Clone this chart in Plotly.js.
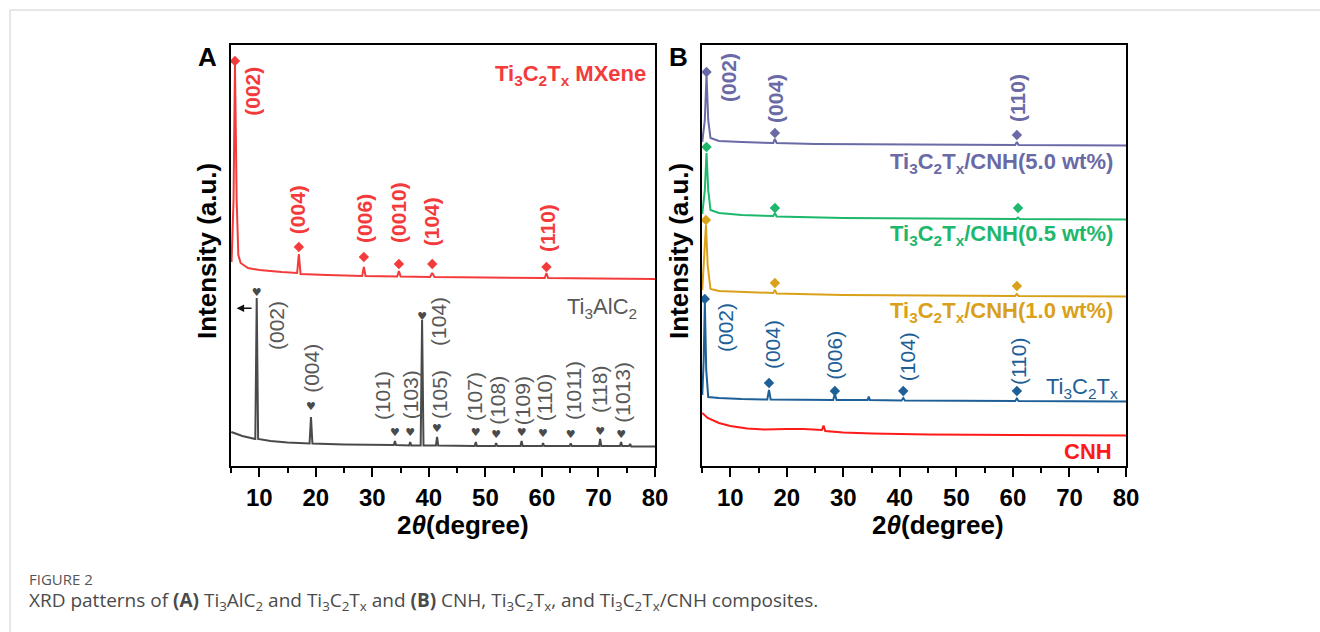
<!DOCTYPE html>
<html>
<head>
<meta charset="utf-8">
<script src="https://cdn.plot.ly/plotly-3.0.1.min.js"></script>
<style>
  html, body { margin: 0; padding: 0; background: #fff; }
  #chart { width: 1320px; height: 632px; }
</style>
</head>
<body>
<div id="chart"></div>
<script>
// ---------------- Panel A data ----------------
// Ti3C2Tx MXene (red)
const mxA_x = [5.1, 5.45, 5.7, 6.0, 6.3, 6.7, 8, 10, 14, 16.7, 17.0, 17.3, 22, 28.2, 28.5, 28.8, 34.4, 34.7, 35.0, 40.2, 40.6, 41.0, 50, 60.5, 60.8, 61.1, 70, 80];
const mxA_y = [48.46, 63.18, 95.72, 63.18, 50.12, 48.22, 47.03, 46.56, 46.08, 45.84, 50.36, 45.61, 45.37, 45.13, 47.27, 45.13, 45.01, 46.32, 45.01, 44.89, 45.84, 44.89, 44.77, 44.66, 45.84, 44.66, 44.54, 44.42];
const mxA_mk_x = [5.7, 17.0, 28.5, 34.7, 40.6, 60.8];
const mxA_mk_y = [96.2, 52.02, 49.64, 47.98, 47.98, 47.27];
const mxA_lab = ["(002)", "(004)", "(006)", "(0010)", "(104)", "(110)"];
const mxA_lab_x = [8.9, 16.7, 28.5, 34.5, 40.6, 60.9];
const mxA_lab_y = [88.9, 60.8, 58.9, 60.3, 57.96, 56.53];

// Ti3AlC2 (grey)
const alA_x = [5.05, 7, 9.3, 9.55, 9.8, 12, 15, 18.9, 19.15, 19.4, 25, 33.8, 34.0, 34.2, 36.5, 36.7, 36.9, 38.55, 38.8, 39.05, 41.25, 41.45, 41.65, 48.1, 48.3, 48.5, 51.7, 51.9, 52.1, 56.2, 56.4, 56.6, 60.0, 60.2, 60.4, 64.9, 65.1, 65.3, 70.1, 70.3, 70.5, 73.8, 74.0, 74.2, 75.4, 75.6, 75.8, 80];
const alA_y = [8.08, 7.13, 6.41, 39.90, 6.41, 5.94, 5.58, 5.34, 11.64, 5.34, 5.11, 4.99, 5.94, 4.99, 4.87, 5.70, 4.87, 4.87, 34.68, 4.87, 4.87, 6.89, 4.87, 4.75, 5.70, 4.75, 4.75, 5.46, 4.75, 4.75, 5.94, 4.75, 4.75, 5.46, 4.75, 4.75, 5.34, 4.75, 4.75, 6.41, 4.75, 4.75, 5.70, 4.75, 4.75, 5.23, 4.63, 4.63];
const alA_mk_x = [9.55, 19.15, 34.0, 36.7, 38.8, 41.45, 48.3, 51.9, 56.4, 60.2, 65.1, 70.3, 74.0];
const alA_mk_y = [41.09, 14.01, 7.84, 7.84, 35.39, 8.79, 7.84, 7.36, 7.84, 7.60, 7.36, 8.08, 7.36];
const alA_lab = ["(002)", "(004)", "(101)", "(103)", "(104)", "(105)", "(107)", "(108)", "(109)", "(110)", "(1011)", "(118)", "(1013)"];
const alA_lab_x = [12.96, 19.3, 31.9, 36.7, 41.6, 41.8, 48.0, 52.2, 56.5, 60.4, 65.5, 70.1, 74.3];
const alA_lab_y = [33.25, 23.28, 16.63, 16.86, 34.44, 16.86, 16.39, 15.68, 15.44, 16.15, 17.81, 18.05, 17.58];

// ---------------- Panel B data ----------------
const c50_x = [5.05, 5.5, 5.8, 6.1, 6.5, 8, 12, 17.6, 17.9, 18.2, 25, 40, 60.4, 60.7, 61.0, 80];
const c50_y = [76.96, 82.19, 92.87, 82.19, 77.91, 77.20, 76.96, 76.72, 77.67, 76.72, 76.48, 76.37, 76.25, 76.96, 76.25, 76.13];
const c50_mk_x = [5.8, 17.9, 60.7];
const c50_mk_y = [93.59, 79.10, 78.62];
const c50_lab = ["(002)", "(004)", "(110)"];
const c50_lab_x = [9.6, 17.9, 60.7];
const c50_lab_y = [92.16, 87.41, 87.41];

const c05_x = [5.05, 5.5, 5.8, 6.1, 6.5, 8, 12, 17.6, 17.9, 18.2, 30, 60.6, 60.9, 61.2, 80];
const c05_y = [59.86, 65.56, 74.35, 65.56, 60.81, 60.10, 59.62, 59.38, 60.10, 59.26, 58.91, 58.67, 59.03, 58.67, 58.55];
const c05_mk_x = [5.8, 17.9, 60.9];
const c05_mk_y = [75.77, 61.28, 61.28];

const c10_x = [5.05, 5.4, 5.7, 6.0, 6.5, 8, 12, 17.6, 17.9, 18.2, 30, 60.4, 60.7, 61.0, 80];
const c10_y = [41.81, 48.93, 57.24, 47.74, 42.04, 41.57, 41.33, 41.09, 41.81, 40.97, 40.62, 40.38, 40.86, 40.38, 40.26];
const c10_mk_x = [5.7, 17.9, 60.7];
const c10_mk_y = [58.43, 43.47, 42.76];

const ti_x = [5.05, 5.3, 5.5, 5.75, 6.1, 8, 12, 16.55, 16.85, 17.15, 28.2, 28.5, 28.8, 34.3, 34.5, 34.7, 40.3, 40.6, 40.9, 60.4, 60.7, 61.0, 80];
const ti_y = [16.86, 25.18, 38.95, 22.80, 16.39, 16.15, 15.91, 15.80, 18.05, 15.80, 15.68, 17.10, 15.68, 15.68, 16.51, 15.68, 15.56, 16.15, 15.56, 15.44, 16.03, 15.44, 15.32];
const ti_mk_x = [5.5, 16.85, 28.5, 40.6, 60.7];
const ti_mk_y = [39.67, 19.71, 17.81, 17.81, 17.81];
const ti_lab = ["(002)", "(004)", "(006)", "(104)", "(110)"];
const ti_lab_x = [9.07, 17.4, 28.5, 41.3, 60.9];
const ti_lab_y = [32.78, 28.74, 26.37, 25.89, 24.70];

const cnh_x = [5.05, 6, 8, 10, 13, 16, 20, 23, 26.2, 26.5, 26.8, 30, 35, 45, 60, 80];
const cnh_y = [12.59, 11.40, 10.21, 9.50, 8.91, 8.67, 8.79, 8.79, 8.55, 9.62, 8.31, 7.96, 7.72, 7.48, 7.36, 7.24];

// sample names
const nameA = ["Ti<sub>3</sub>C<sub>2</sub>T<sub>x</sub> MXene", "Ti<sub>3</sub>AlC<sub>2</sub>"];
const nameA_x = [78.7, 77.1];
const nameA_y = [92.87, 37.53];
const nameB = ["Ti<sub>3</sub>C<sub>2</sub>T<sub>x</sub>/CNH(5.0 wt%)", "Ti<sub>3</sub>C<sub>2</sub>T<sub>x</sub>/CNH(0.5 wt%)", "Ti<sub>3</sub>C<sub>2</sub>T<sub>x</sub>/CNH(1.0 wt%)", "Ti<sub>3</sub>C<sub>2</sub>T<sub>x</sub>", "CNH"];
const nameB_x = [78.1, 78.1, 78.1, 79.0, 77.8];
const nameB_y = [71.97, 54.87, 36.58, 18.53, 3.33];

const tickVals = [10, 20, 30, 40, 50, 60, 70, 80];
const tickText = ["10", "20", "30", "40", "50", "60", "70", "80"];

// ---------------- styles ----------------
const FONT = "Liberation Sans, Arial, Helvetica, sans-serif";
const RED_A = "#F43B3B", GREY = "#4A4A4A", GREY_T = "#585858";
const PURPLE = "#6A6AA6", GREEN = "#1DB86C", ORANGE = "#D9A11A", BLUE = "#1E5F98", RED_B = "#FF1A1A";

function line(x, y, color, xa, ya) {
  return {x: x, y: y, type: "scatter", mode: "lines", xaxis: xa, yaxis: ya,
    line: {color: color, width: 2}, hoverinfo: "skip", showlegend: false};
}
function diamonds(x, y, color, xa, ya) {
  return {x: x, y: y, type: "scatter", mode: "markers", xaxis: xa, yaxis: ya,
    marker: {symbol: "diamond", size: 8, color: color}, hoverinfo: "skip", showlegend: false};
}
function hearts(x, y, color, xa, ya) {
  return {x: x, y: y, type: "scatter", mode: "text", xaxis: xa, yaxis: ya,
    text: x.map(() => "\u2665"), textposition: "middle center",
    textfont: {family: "DejaVu Sans", size: 11, color: color}, hoverinfo: "skip", showlegend: false};
}

const traces = [
  line(mxA_x, mxA_y, RED_A, "x", "y"),
  diamonds(mxA_mk_x, mxA_mk_y, RED_A, "x", "y"),
  line(alA_x, alA_y, GREY, "x", "y"),
  hearts(alA_mk_x, alA_mk_y, GREY, "x", "y"),
  line(c50_x, c50_y, PURPLE, "x2", "y2"),
  diamonds(c50_mk_x, c50_mk_y, PURPLE, "x2", "y2"),
  line(c05_x, c05_y, GREEN, "x2", "y2"),
  diamonds(c05_mk_x, c05_mk_y, GREEN, "x2", "y2"),
  line(c10_x, c10_y, ORANGE, "x2", "y2"),
  diamonds(c10_mk_x, c10_mk_y, ORANGE, "x2", "y2"),
  line(ti_x, ti_y, BLUE, "x2", "y2"),
  diamonds(ti_mk_x, ti_mk_y, BLUE, "x2", "y2"),
  line(cnh_x, cnh_y, RED_B, "x2", "y2")
];

const annotations = [];
function rotLabels(texts, xs, ys, color, xr, yr, weight) {
  texts.forEach((t, i) => annotations.push({
    text: t, x: xs[i], y: ys[i], xref: xr, yref: yr, textangle: -90, showarrow: false,
    xanchor: "center", yanchor: "middle",
    font: {family: FONT, size: 21, color: color, weight: weight}
  }));
}
rotLabels(mxA_lab, mxA_lab_x, mxA_lab_y, RED_A, "x", "y", "bold");
rotLabels(alA_lab, alA_lab_x, alA_lab_y, GREY_T, "x", "y", "normal");
rotLabels(c50_lab, c50_lab_x, c50_lab_y, PURPLE, "x2", "y2", "bold");
rotLabels(ti_lab, ti_lab_x, ti_lab_y, BLUE, "x2", "y2", "normal");

const nameAColors = [RED_A, GREY_T], nameAWeights = ["bold", "normal"];
nameA.forEach((t, i) => annotations.push({
  text: t, x: nameA_x[i], y: nameA_y[i], xref: "x", yref: "y", showarrow: false,
  xanchor: "right", yanchor: "middle",
  font: {family: FONT, size: 22, color: nameAColors[i], weight: nameAWeights[i]}
}));
const nameBColors = [PURPLE, GREEN, ORANGE, BLUE, RED_B];
const nameBWeights = ["bold", "bold", "bold", "normal", "bold"];
nameB.forEach((t, i) => annotations.push({
  text: t, x: nameB_x[i], y: nameB_y[i], xref: "x2", yref: "y2", showarrow: false,
  xanchor: "right", yanchor: "middle",
  font: {family: FONT, size: 22, color: nameBColors[i], weight: nameBWeights[i]}
}));

// shift arrow near Ti3AlC2 (002)
annotations.push({x: 6.0, y: 37.5, ax: 8.9, ay: 37.5, xref: "x", yref: "y", axref: "x", ayref: "y",
  text: "", showarrow: true, arrowhead: 2, arrowsize: 1, arrowwidth: 1.5, arrowcolor: "#111"});

// panel letters, axis titles, caption
const W = 1320, H = 632;
const px = v => v / W, py = v => (H - v) / H;
const titleFont = {family: FONT, size: 26, color: "#000", weight: "bold"};
function paperText(text, x, y, font, extra) {
  annotations.push(Object.assign({text: text, x: px(x), y: py(y), xref: "paper", yref: "paper",
    xanchor: "center", yanchor: "middle", showarrow: false, font: font}, extra || {}));
}
paperText("A", 207, 57, {family: FONT, size: 26, color: "#000", weight: "bold"});
paperText("B", 678, 57, {family: FONT, size: 26, color: "#000", weight: "bold"});
paperText("Intensity (a.u.)", 207, 251, titleFont, {textangle: -90});
paperText("Intensity (a.u.)", 679, 251, titleFont, {textangle: -90});
paperText("2<i>θ</i>(degree)", 463, 525, titleFont);
paperText("2<i>θ</i>(degree)", 938, 525, titleFont);
paperText("FIGURE 2", 27, 579, {family: "Open Sans, Noto Sans, sans-serif", size: 15, color: "#555"}, {xanchor: "left"});
paperText("XRD patterns of <b>(A)</b> Ti<sub>3</sub>AlC<sub>2</sub> and Ti<sub>3</sub>C<sub>2</sub>T<sub>x</sub> and <b>(B)</b> CNH, Ti<sub>3</sub>C<sub>2</sub>T<sub>x</sub>, and Ti<sub>3</sub>C<sub>2</sub>T<sub>x</sub>/CNH composites.",
  27, 601, {family: "Open Sans, Noto Sans, sans-serif", size: 19, color: "#4a4a4a"}, {xanchor: "left"});

const xBase = {
  range: [5, 80], tickmode: "array", tickvals: tickVals, ticktext: tickText,
  showline: true, mirror: true, linecolor: "#000", linewidth: 2,
  ticks: "outside", ticklen: 9, tickwidth: 2, tickcolor: "#000",
  minor: {ticks: "outside", ticklen: 5, tickwidth: 2, tickcolor: "#000", dtick: 5, tick0: 5, showgrid: false},
  showgrid: false, zeroline: false, ticklabelstandoff: 0,
  tickfont: {family: FONT, size: 24, color: "#000", weight: "bold"}
};
const yBase = {
  range: [0, 100], showline: true, mirror: true, linecolor: "#000", linewidth: 2,
  ticks: "", showticklabels: false, showgrid: false, zeroline: false
};

const layout = {
  width: W, height: H, margin: {l: 0, r: 0, t: 0, b: 0},
  paper_bgcolor: "#fff", plot_bgcolor: "#fff", showlegend: false,
  xaxis: Object.assign({}, xBase, {domain: [px(231), px(655)], anchor: "y"}),
  yaxis: Object.assign({}, yBase, {domain: [py(466), py(45)], anchor: "x"}),
  xaxis2: Object.assign({}, xBase, {domain: [px(702), px(1126)], anchor: "y2"}),
  yaxis2: Object.assign({}, yBase, {domain: [py(466), py(45)], anchor: "x2"}),
  annotations: annotations,
  shapes: [
    {type: "line", xref: "paper", yref: "paper", x0: px(10), x1: 1, y0: py(10), y1: py(10), line: {color: "#cfcfcf", width: 1}},
    {type: "line", xref: "paper", yref: "paper", x0: px(10), x1: px(10), y0: 0, y1: py(10), line: {color: "#cfcfcf", width: 1}}
  ]
};

Plotly.newPlot("chart", traces, layout, {staticPlot: true, displayModeBar: false});
</script>
</body>
</html>
